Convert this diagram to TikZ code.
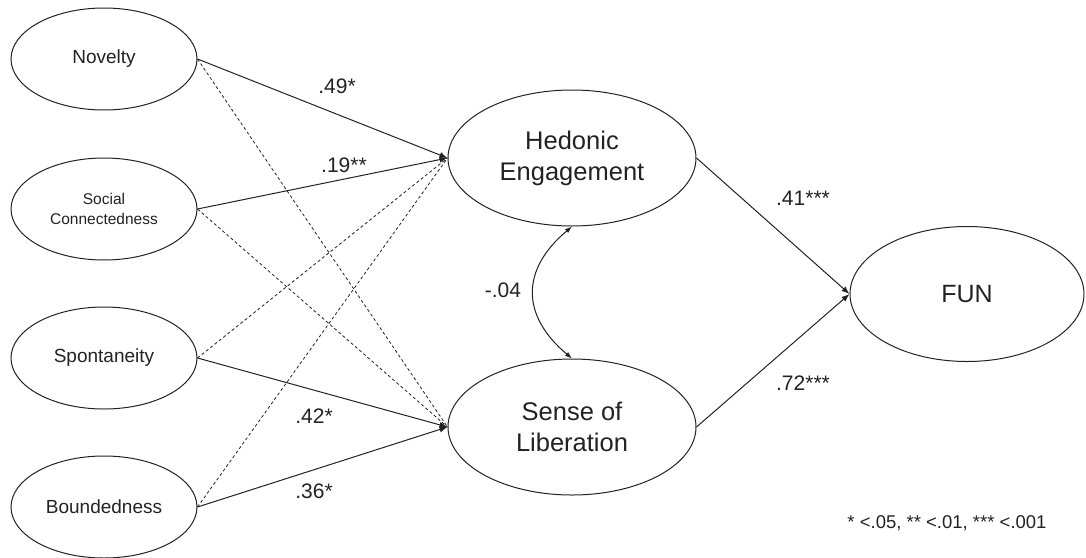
\documentclass[tikz,border=0pt]{standalone}
\usepackage{fontspec}
\setmainfont{Liberation Sans}
\usetikzlibrary{shapes.geometric,arrows.meta}
\definecolor{ink}{HTML}{222222}
\begin{document}
\begin{tikzpicture}[x=1pt,y=-1pt,
  lat/.style={ellipse,draw=ink,line width=1pt,inner sep=0pt,text=ink,align=center},
  small/.style={lat,minimum width=186pt,minimum height=102pt,font=\fontsize{19}{23}\selectfont},
  big/.style={lat,minimum width=248pt,minimum height=136pt,font=\fontsize{25.5}{31}\selectfont},
  path/.style={draw=ink,line width=1pt,-{Latex[length=8pt,width=6pt]}},
  ns/.style={draw=ink,line width=0.8pt,dash pattern=on 3pt off 2.5pt},
  lbl/.style={text=ink,font=\fontsize{21}{25}\selectfont,inner sep=0pt}]
\useasboundingbox (0,0) rectangle (1086,557);
\node[small] (nov) at (104,59) {Novelty};
\node[small,font=\fontsize{15.5}{20}\selectfont] (soc) at (104,209) {Social\\Connectedness};
\node[small] (spo) at (104,358) {Spontaneity};
\node[small] (bou) at (104,507) {Boundedness};
\node[big] (hed) at (572,158) {Hedonic\\Engagement};
\node[big] (lib) at (572,427) {Sense of\\Liberation};
\node[lat,minimum width=234pt,minimum height=135pt,font=\fontsize{25}{30}\selectfont] (fun) at (967,294) {FUN};
% non-significant paths
\draw[ns] (nov.east) -- (lib.west);
\draw[ns] (soc.east) -- (lib.west);
\draw[ns] (spo.east) -- (hed.west);
\draw[ns] (bou.east) -- (hed.west);
% significant paths
\draw[path] (nov.east) -- (hed.west);
\draw[path] (soc.east) -- (hed.west);
\draw[path] (spo.east) -- (lib.west);
\draw[path] (bou.east) -- (lib.west);
\draw[path] (hed.east) -- (fun.west);
\draw[path] (lib.east) -- (fun.west);
\draw[draw=ink,line width=1pt,{Latex[length=7pt,width=5pt]}-{Latex[length=7pt,width=5pt]}] (hed.south) to[out=220,in=140,looseness=1.3] (lib.north);
% labels
\node[lbl] (l1) at (337,86) {.49*};
\node[lbl] (l2) at (344,165) {.19**};
\node[lbl] (l3) at (314,416) {.42*};
\node[lbl] (l4) at (314,491) {.36*};
\node[lbl] (l5) at (803,198) {.41***};
\node[lbl] (l6) at (803,383) {.72***};
\node[lbl] (l7) at (503,290) {-.04};
\node[lbl,font=\fontsize{18.5}{22}\selectfont] (leg) at (947,523) {* <.05, ** <.01, *** <.001};
\end{tikzpicture}
\end{document}
